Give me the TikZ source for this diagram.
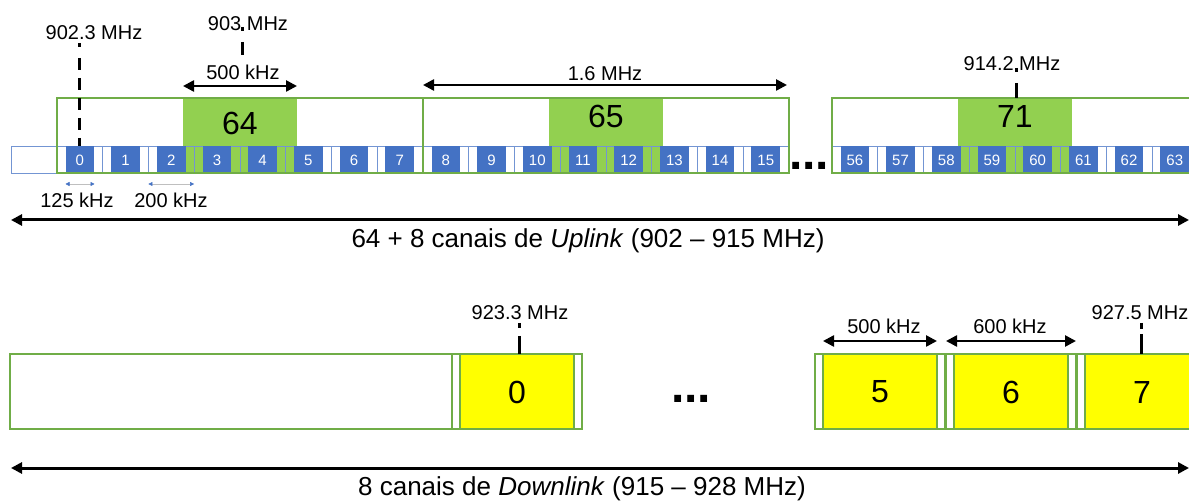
\documentclass[tikz,border=0pt]{standalone}
\usepackage{fontspec}
\setmainfont{Liberation Sans}
\usetikzlibrary{arrows.meta}
\definecolor{gfill}{HTML}{92D050}
\definecolor{gline}{HTML}{70AD47}
\definecolor{chblue}{HTML}{4472C4}
\definecolor{ylw}{HTML}{FFFF00}
\begin{document}
\begin{tikzpicture}[x=1pt,y=-1pt,
  lbl/.style={font=\fontsize{20}{24}\selectfont, inner sep=0pt},
  bignum/.style={font=\fontsize{32}{38}\selectfont, inner sep=0pt},
  captext/.style={font=\fontsize{26}{31}\selectfont, inner sep=0pt},
  chnum/.style={font=\fontsize{15}{18}\selectfont, text=white, inner sep=0pt},
  slotbox/.style={draw=chblue!75, line width=0.6pt},
  grpbox/.style={draw=gline, line width=2pt},
  dimarrow/.style={line width=2.5pt, {Triangle[length=11pt,width=11pt]}-{Triangle[length=11pt,width=11pt]}},
  spanarrow/.style={line width=3pt, {Triangle[length=11pt,width=11pt]}-{Triangle[length=11pt,width=11pt]}},
  tinyarrow/.style={draw=gray!50, line width=0.5pt, {Triangle[length=4pt,width=4pt,color=chblue]}-{Triangle[length=4pt,width=4pt,color=chblue]}},
  vtick/.style={line width=3pt},
  dlbox/.style={draw=gline, line width=2.2pt},
  dotsnode/.style={font=\bfseries\fontsize{48}{54}\selectfont, inner sep=0pt}
]
\useasboundingbox (0,0) rectangle (1189,502);
\clip (0,0) rectangle (1189,502);

% ---------- Uplink ----------
\draw[slotbox, fill=white] (11,146) rectangle (57,173);
\foreach \G/\first/\bnum/\by in {57/0/64/123, 423/8/65/116, 832/56/71/116} {
  \foreach \k in {0,...,7} {
    \pgfmathsetmacro\sx{\G+\k*45.7}
    \fill[white] (\sx,146) rectangle ++(45.7,27);
  }
  \pgfmathsetmacro\bc{\G+182.8}
  \fill[gfill] (\bc-57.1,98) rectangle (\bc+57.1,173);
  \foreach \k in {0,...,7} {
    \pgfmathsetmacro\sx{\G+\k*45.7}
    \draw[slotbox] (\sx,146) rectangle ++(45.7,27);
  }
  \foreach \k in {0,...,7} {
    \pgfmathsetmacro\cx{\G+\k*45.7+8.55}
    \pgfmathtruncatemacro\n{\first+\k}
    \fill[chblue] (\cx,146) rectangle ++(28.6,27);
    \node[chnum] (ch\n) at (\cx+14.3,160) {\n};
  }
  \draw[grpbox] (\G,98) rectangle ++(365.6,75);
  \node[bignum] (b\bnum) at (\bc,\by) {\bnum};
}

\node[dotsnode] (updots) at (809,166) {...};

% frequency labels and ticks
\node[lbl] (f9023) at (94,33) {902.3 MHz};
\coordinate (t0a) at (79,43); \coordinate (t0b) at (79,47);
\coordinate (t0c) at (79,58); \coordinate (t0d) at (79,146);
\draw[vtick] (t0a) -- (t0b);
\draw[vtick, dash pattern=on 12pt off 8pt] (t0c) -- (t0d);

\node[lbl] (f903) at (248,24) {903 MHz};
\coordinate (t1a) at (242,27); \coordinate (t1b) at (242,31);
\coordinate (t1c) at (242,42); \coordinate (t1d) at (242,55);
\draw[vtick] (t1a) -- (t1b);
\draw[vtick] (t1c) -- (t1d);

\node[lbl] (f9142) at (1012,64) {914.2 MHz};
\coordinate (t2a) at (1016,68); \coordinate (t2b) at (1016,72);
\coordinate (t2c) at (1016,83); \coordinate (t2d) at (1016,98);
\draw[vtick] (t2a) -- (t2b);
\draw[vtick] (t2c) -- (t2d);

% dimension arrows
\node[lbl] (w500) at (243,72) {500 kHz};
\coordinate (a1l) at (183,86); \coordinate (a1r) at (297,86);
\draw[dimarrow] (a1l) -- (a1r);

\node[lbl] (w16) at (605,74) {1.6 MHz};
\coordinate (a2l) at (423,85); \coordinate (a2r) at (787,85);
\draw[dimarrow] (a2l) -- (a2r);

\node[lbl] (w125) at (77,200) {125 kHz};
\coordinate (a3l) at (65.5,184); \coordinate (a3r) at (94.5,184);
\draw[tinyarrow] (a3l) -- (a3r);

\node[lbl] (w200) at (171,200) {200 kHz};
\coordinate (a4l) at (148.4,184); \coordinate (a4r) at (194.1,184);
\draw[tinyarrow] (a4l) -- (a4r);

\coordinate (upl) at (11,220); \coordinate (upr) at (1189,220);
\draw[spanarrow] (upl) -- (upr);
\node[captext] (upcap) at (588,241) {64 + 8 canais de \textit{Uplink} (902 – 915 MHz)};

% ---------- Downlink ----------
\draw[dlbox, fill=white] (10,354) rectangle (452,429);
\foreach \n/\sx in {0/452, 5/815, 6/946, 7/1077} {
  \draw[dlbox, fill=white] (\sx,354) rectangle ++(130,75);
  \draw[dlbox, fill=ylw] (\sx+8,354) rectangle ++(114,75);
  \node[bignum] (d\n) at (\sx+65,392) {\n};
}

\node[dotsnode] (dndots) at (691,399) {...};

\node[lbl] (f9233) at (520,313) {923.3 MHz};
\coordinate (t3a) at (519,323); \coordinate (t3b) at (519,328);
\coordinate (t3c) at (519,336); \coordinate (t3d) at (519,354);
\draw[vtick] (t3a) -- (t3b);
\draw[vtick] (t3c) -- (t3d);

\node[lbl] (f9275) at (1140,313) {927.5 MHz};
\coordinate (t4a) at (1141,323); \coordinate (t4b) at (1141,329);
\coordinate (t4c) at (1141,334); \coordinate (t4d) at (1141,354);
\draw[vtick] (t4a) -- (t4b);
\draw[vtick] (t4c) -- (t4d);

\node[lbl] (w500b) at (884,326) {500 kHz};
\coordinate (a5l) at (823,341); \coordinate (a5r) at (937,341);
\draw[dimarrow] (a5l) -- (a5r);

\node[lbl] (w600) at (1010,326) {600 kHz};
\coordinate (a6l) at (946,341); \coordinate (a6r) at (1076,341);
\draw[dimarrow] (a6l) -- (a6r);

\coordinate (dnl) at (11,468); \coordinate (dnr) at (1189,468);
\draw[spanarrow] (dnl) -- (dnr);
\node[captext] (dncap) at (582,489) {8 canais de \textit{Downlink} (915 – 928 MHz)};
\end{tikzpicture}
\end{document}
